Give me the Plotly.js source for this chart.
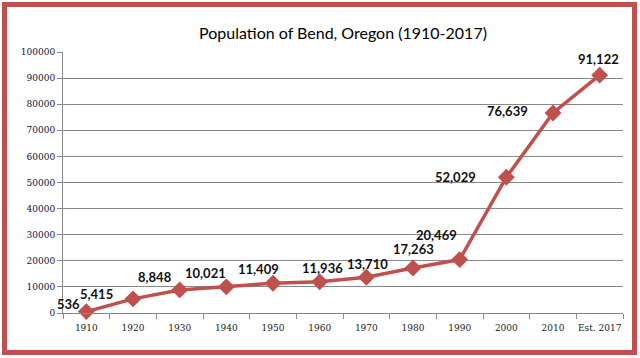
<!DOCTYPE html>
<html><head><meta charset="utf-8">
<script src="https://cdn.plot.ly/plotly-3.0.1.min.js"></script>
<style>html,body{margin:0;padding:0;background:#fff;}#chart{width:640px;height:358px;}</style>
</head><body><div id="chart"></div>
<script>
var years = ['1910','1920','1930','1940','1950','1960','1970','1980','1990','2000','2010','Est. 2017'];
var population = [536, 5415, 8848, 10021, 11409, 11936, 13710, 17263, 20469, 52029, 76639, 91122];
var yTicks = [0,10000,20000,30000,40000,50000,60000,70000,80000,90000,100000];
// label offsets in pixels (dx right, dy up)
var labelDx = [-18,-37,-25,-21,-15,3,1,0,-23,-51,-46,-1];
var labelDy = [8,5,13,14,14,14,13,19,25,0,2,16];

var W=640,H=358,ml=63,mr=17,mt=52,mb=45;
var pw=W-ml-mr, ph=H-mt-mb;
function px(x){return (x-ml)/pw;}
function py(y){return (H-mb-y)/ph;}

var annotations = population.map(function(v,i){
  return {x:i, y:v, xref:'x', yref:'y', text:'<b>'+v.toLocaleString('en-US')+'</b>', showarrow:false,
    xshift:labelDx[i], yshift:labelDy[i], font:{family:'Lato, "Open Sans", sans-serif', size:13, color:'#111'},
    xanchor:'center', yanchor:'middle'};
});

var shapes = [
  {type:'rect', xref:'paper', yref:'paper', x0:px(4.5), x1:px(634.5), y0:py(4.5), y1:py(352.5),
   line:{color:'#c0504d', width:5}, fillcolor:'rgba(0,0,0,0)', layer:'above'}
];

var trace = {x:years, y:population, type:'scatter', mode:'lines+markers',
  line:{color:'#c0504d', width:3.5}, marker:{symbol:'diamond', size:13, color:'#c0504d'},
  hoverinfo:'skip', cliponaxis:false};

var layout = {
  width:W, height:H, margin:{l:ml,r:mr,t:mt,b:mb},
  paper_bgcolor:'#fff', plot_bgcolor:'#fff', showlegend:false,
  title:{text:'Population of Bend, Oregon (1910-2017)', x:0.5, xanchor:'center', xref:'paper',
    y:1-33/H, yanchor:'middle', font:{family:'Lato, "Open Sans", sans-serif', size:16, color:'#000'}},
  xaxis:{type:'category', range:[-0.5,11.5], showgrid:false, showline:true, linecolor:'#888', linewidth:1,
    ticks:'outside', tickson:'boundaries', ticklen:5, tickcolor:'#888', tickangle:0, ticklabelstandoff:6,
    tickfont:{family:'"DejaVu Serif", serif', size:9, color:'#222'}, fixedrange:true},
  yaxis:{range:[0,100000], tickvals:yTicks, ticktext:yTicks.map(String), showgrid:true, gridcolor:'#888', gridwidth:1,
    showline:true, linecolor:'#888', linewidth:1, ticks:'outside', ticklen:5, tickcolor:'#888', zeroline:false,
    tickfont:{family:'"DejaVu Serif", serif', size:9, color:'#10103a'}, fixedrange:true},
  annotations:annotations, shapes:shapes
};
Plotly.newPlot('chart',[trace],layout,{displayModeBar:false,staticPlot:true});
</script></body></html>
